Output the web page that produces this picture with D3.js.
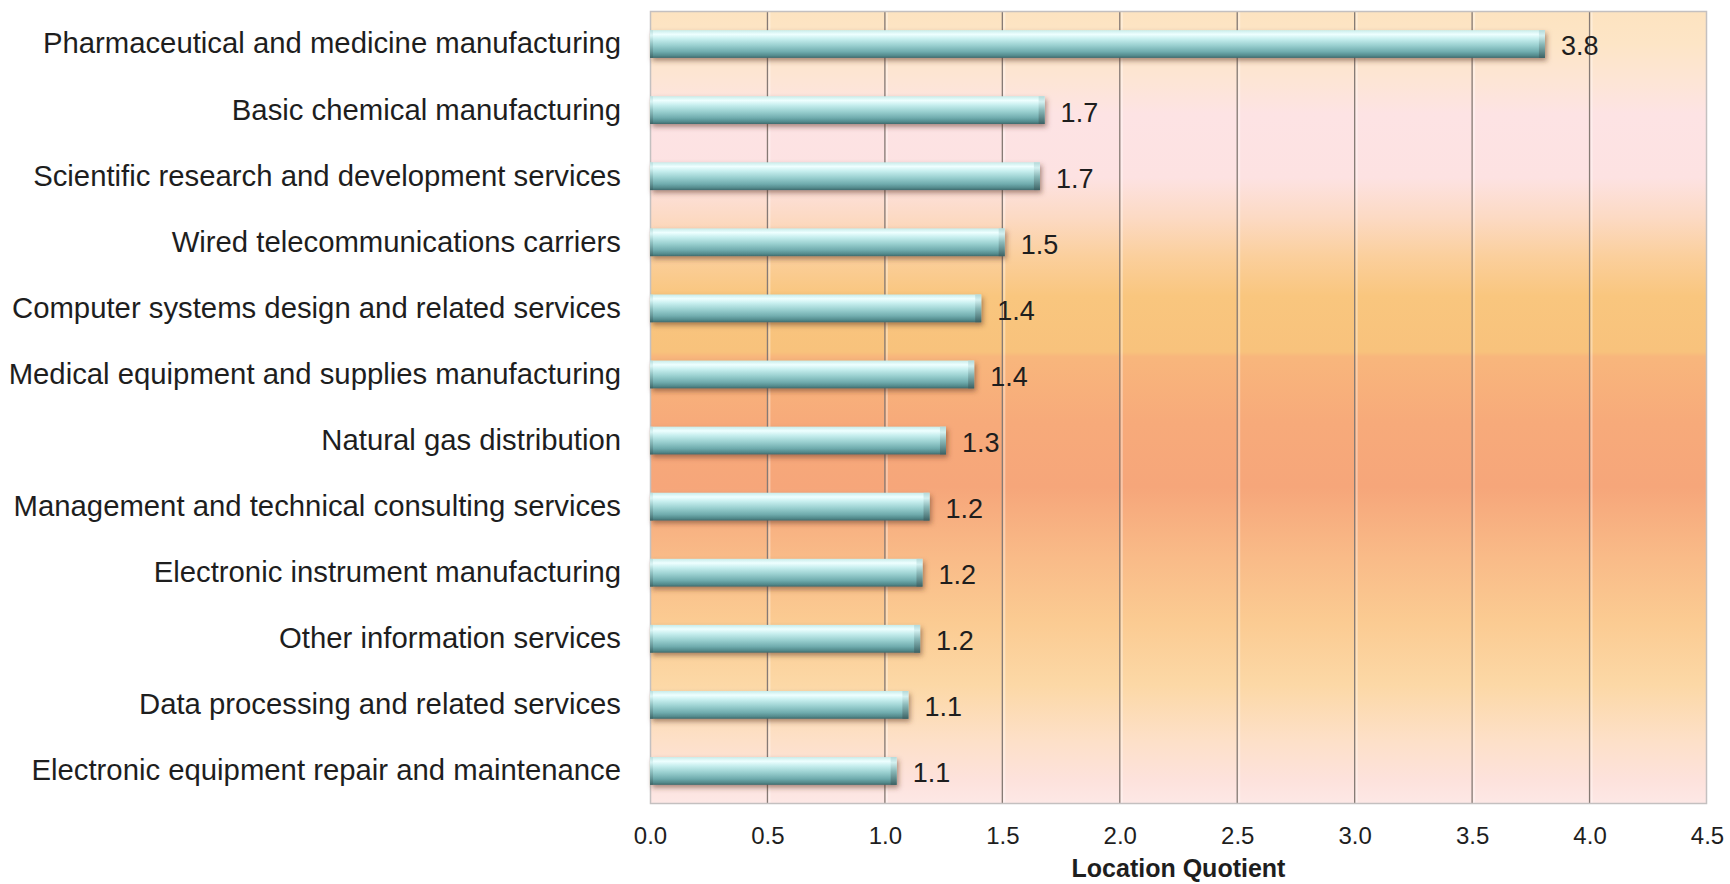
<!DOCTYPE html>
<html>
<head>
<meta charset="utf-8">
<script src="https://cdn.jsdelivr.net/npm/d3@7"></script>
<style>
  html, body { margin: 0; padding: 0; background: #ffffff; }
  svg { display: block; }
  text { font-family: "Liberation Sans", Arial, sans-serif; }
</style>
</head>
<body>
<svg id="chart" width="1730" height="884"></svg>
<script>
// ---- data ----
const categories = [
  "Pharmaceutical and medicine manufacturing",
  "Basic chemical manufacturing",
  "Scientific research and development services",
  "Wired telecommunications carriers",
  "Computer systems design and related services",
  "Medical equipment and supplies manufacturing",
  "Natural gas distribution",
  "Management and technical consulting services",
  "Electronic instrument manufacturing",
  "Other information services",
  "Data processing and related services",
  "Electronic equipment repair and maintenance"
];
const values = [3.81, 1.68, 1.66, 1.51, 1.41, 1.38, 1.26, 1.19, 1.16, 1.15, 1.10, 1.05];
const valueLabels = ["3.8", "1.7", "1.7", "1.5", "1.4", "1.4", "1.3", "1.2", "1.2", "1.2", "1.1", "1.1"];
const xTicks = [0, 0.5, 1.0, 1.5, 2.0, 2.5, 3.0, 3.5, 4.0, 4.5];
const xTitle = "Location Quotient";

// ---- layout ----
const plot = { left: 650, right: 1707, top: 11, bottom: 804 };

const svg = d3.select("#chart");
const defs = svg.append("defs");

const x = d3.scaleLinear().domain([0, 4.5]).range([plot.left, plot.right]);
const y = d3.scaleBand().domain(categories).range([plot.top, plot.bottom]).paddingInner(0.58).paddingOuter(0.29);

// background gradient
const bg = defs.append("linearGradient").attr("id", "bgGrad")
  .attr("x1", 0).attr("y1", 0).attr("x2", 0).attr("y2", 1);
[
  [0, "#fde3c0"], [0.04, "#fde5c6"], [0.09, "#fde5d6"], [0.13, "#fde3e4"],
  [0.21, "#fde2e2"], [0.26, "#fcdac4"], [0.31, "#fbcf9c"], [0.36, "#f9c67e"],
  [0.43, "#f8c27c"], [0.436, "#f8b67c"], [0.52, "#f7aa7a"], [0.6, "#f6a67a"],
  [0.69, "#f9bb88"], [0.77, "#fbcb92"], [0.85, "#fcd8a6"], [0.92, "#fde0c8"],
  [0.97, "#fde2dc"], [1, "#fde8e6"]
].forEach(([o, c]) => bg.append("stop").attr("offset", o).attr("stop-color", c));

// bar gradient (cylinder look)
const bar = defs.append("linearGradient").attr("id", "barGrad")
  .attr("x1", 0).attr("y1", 0).attr("x2", 0).attr("y2", 1);
[
  [0, "#c8ecea"], [0.15, "#eeffff"], [0.32, "#c6eeee"], [0.55, "#9ad0d0"],
  [0.78, "#70acae"], [0.92, "#538a8c"], [1, "#3f6a6c"]
].forEach(([o, c]) => bar.append("stop").attr("offset", o).attr("stop-color", c));

const cap = defs.append("linearGradient").attr("id", "capGrad")
  .attr("x1", 0).attr("y1", 0).attr("x2", 0).attr("y2", 1);
[
  [0, "#b0d6d6"], [0.2, "#d0eeee"], [0.5, "#86b4b4"], [1, "#3a5e60"]
].forEach(([o, c]) => cap.append("stop").attr("offset", o).attr("stop-color", c));

const shadow = defs.append("filter").attr("id", "shadow")
  .attr("x", "-5%").attr("y", "-50%").attr("width", "115%").attr("height", "220%");
shadow.append("feDropShadow").attr("dx", 2).attr("dy", 3).attr("stdDeviation", 2.4)
  .attr("flood-color", "#5a3020").attr("flood-opacity", 0.5);

const soft = defs.append("filter").attr("id", "soft");
soft.append("feGaussianBlur").attr("stdDeviation", 0.5);

// plot background
svg.append("rect")
  .attr("x", plot.left).attr("y", plot.top)
  .attr("width", plot.right - plot.left).attr("height", plot.bottom - plot.top)
  .attr("fill", "url(#bgGrad)");

// gridlines
const grid = svg.append("g").attr("filter", "url(#soft)");
grid.selectAll("line.hl").data(xTicks.slice(1, -1)).join("line")
  .attr("class", "hl")
  .attr("x1", d => x(d) + 2).attr("x2", d => x(d) + 2)
  .attr("y1", plot.top).attr("y2", plot.bottom)
  .attr("stroke", "#ffffff").attr("stroke-opacity", 0.35).attr("stroke-width", 2);
grid.selectAll("line.g").data(xTicks.slice(1, -1)).join("line")
  .attr("class", "g")
  .attr("x1", d => x(d)).attr("x2", d => x(d))
  .attr("y1", plot.top).attr("y2", plot.bottom)
  .attr("stroke", "#857a74").attr("stroke-width", 1.3);

// plot border
svg.append("rect")
  .attr("x", plot.left + 0.5).attr("y", plot.top + 0.5)
  .attr("width", plot.right - plot.left - 1).attr("height", plot.bottom - plot.top - 1)
  .attr("fill", "none").attr("stroke", "#c4c0c0").attr("stroke-width", 1.5);

// bars
const bars = svg.append("g");
const bh = y.bandwidth();
bars.selectAll("rect.bar").data(categories).join("rect")
  .attr("class", "bar")
  .attr("x", x(0)).attr("y", d => y(d))
  .attr("width", (d, i) => x(values[i]) - x(0)).attr("height", bh)
  .attr("fill", "url(#barGrad)")
  .attr("filter", "url(#shadow)");
bars.selectAll("rect.cap").data(categories).join("rect")
  .attr("class", "cap")
  .attr("x", (d, i) => x(values[i]) - 6).attr("y", d => y(d))
  .attr("width", 6).attr("height", bh)
  .attr("fill", "url(#capGrad)").attr("opacity", 0.85);
bars.selectAll("rect.lcap").data(categories).join("rect")
  .attr("class", "lcap")
  .attr("x", x(0)).attr("y", d => y(d))
  .attr("width", 3).attr("height", bh)
  .attr("fill", "url(#capGrad)").attr("opacity", 0.6);

// value labels
svg.append("g").selectAll("text").data(categories).join("text")
  .attr("x", (d, i) => x(values[i]) + 16)
  .attr("y", d => y(d) + bh / 2 + 2)
  .attr("dy", "0.35em")
  .attr("font-size", 27)
  .attr("fill", "#1e1e1e")
  .text((d, i) => valueLabels[i]);

// y axis labels
const yAxis = d3.axisLeft(y).tickSize(0).tickPadding(29);
const yg = svg.append("g").attr("transform", `translate(${plot.left},0)`).call(yAxis);
yg.select(".domain").remove();
yg.selectAll("text").attr("font-size", 29.3).attr("fill", "#1e1e1e")
  .attr("font-family", "'Liberation Sans', Arial, sans-serif");

// x axis
const xAxis = d3.axisBottom(x).tickValues(xTicks).tickFormat(d3.format(".1f")).tickSize(0).tickPadding(23);
const xg = svg.append("g").attr("transform", `translate(0,${plot.bottom})`).call(xAxis);
xg.select(".domain").remove();
xg.selectAll("text").attr("font-size", 24).attr("fill", "#1e1e1e")
  .attr("font-family", "'Liberation Sans', Arial, sans-serif");

// x title
svg.append("text")
  .attr("x", (plot.left + plot.right) / 2).attr("y", 877)
  .attr("text-anchor", "middle")
  .attr("font-size", 25).attr("font-weight", "bold").attr("fill", "#1e1e1e")
  .text(xTitle);
</script>
</body>
</html>
